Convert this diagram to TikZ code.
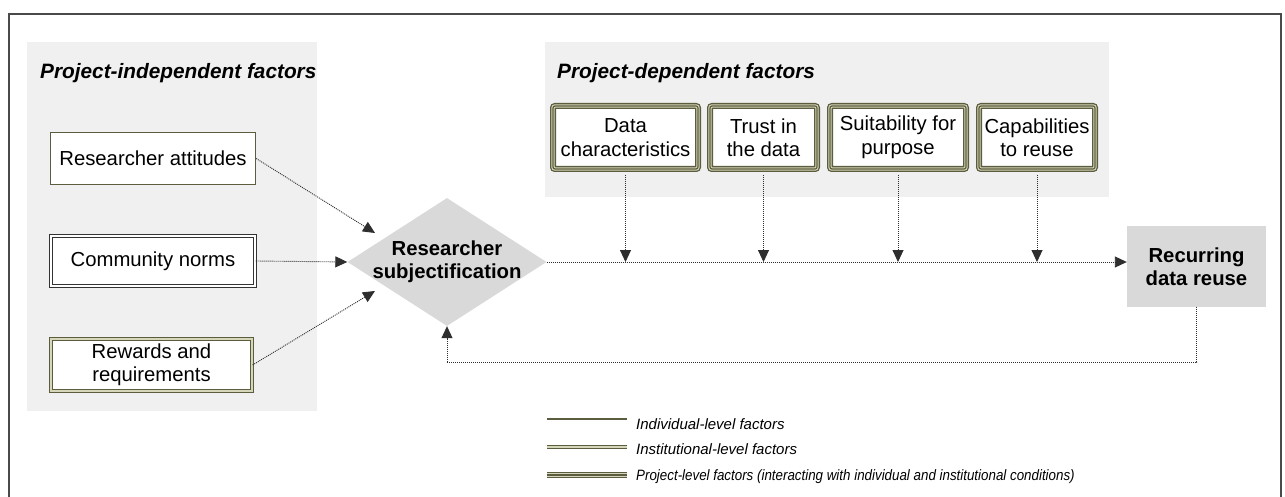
\documentclass[tikz,border=0pt]{standalone}
\usepackage{fontspec}
\setmainfont{Liberation Sans}
\usetikzlibrary{arrows.meta,shapes.geometric,calc}

\definecolor{panelgray}{HTML}{F0F0F0}
\definecolor{keyfill}{HTML}{D9D9D9}
\definecolor{olivedark}{RGB}{92,92,62}
\definecolor{olivelight}{RGB}{214,214,186}
\definecolor{framegray}{HTML}{4A4A4A}
\definecolor{linkgray}{HTML}{2E2E2E}

\begin{document}
\begin{tikzpicture}[x=1pt,y=-1pt,
  boxtext/.style={font=\fontsize{20.3}{23.5}\selectfont, align=center, inner sep=2pt},
  heading/.style={font=\fontsize{20.8}{24}\selectfont\bfseries\itshape, anchor=west, inner sep=0pt},
  legendtext/.style={font=\fontsize{15}{18}\selectfont\itshape, anchor=base west, inner sep=0pt},
  panel/.style={fill=panelgray, draw=none},
  individual/.style={boxtext, fill=white, draw=olivedark, line width=1.4pt},
  institutional/.style={boxtext, fill=white, draw=olivedark, line width=1.2pt,
    double=olivelight, double distance=1.5pt},
  normsbox/.style={boxtext, fill=white, draw=black!80, line width=1.1pt,
    double=white, double distance=1.6pt},
  projectbox/.style={boxtext, fill=white, draw=olivedark, line width=6pt, rounded corners=2pt,
    postaction={draw=olivelight, line width=3.4pt},
    postaction={draw=olivedark, line width=1.2pt}},
  keynode/.style={fill=keyfill, draw=none, font=\fontsize{20.3}{23.5}\selectfont\bfseries,
    align=center, inner sep=0pt},
  link/.style={draw=linkgray, line width=0.9pt, dash pattern=on 1pt off 1pt,
    -{Triangle[length=12pt,width=11pt]}},
  feedback/.style={draw=linkgray, line width=0.9pt, dash pattern=on 1pt off 1pt},
  keyline single/.style={draw=olivedark, line width=1.4pt},
  keyline double/.style={draw=olivedark, line width=1.2pt, double=olivelight, double distance=1.5pt},
  keyline triple/.style={draw=olivedark, line width=6pt,
    postaction={draw=olivelight, line width=3.4pt},
    postaction={draw=olivedark, line width=1.2pt}},
]

% canvas and outer frame (open at the bottom)
\useasboundingbox (0,0) rectangle (1285,497);
\fill[white] (0,0) rectangle (1285,497);
\draw[framegray, line width=2pt] (9,497) -- (9,14) -- (1281,14) -- (1281,497);

% grey group panels
\path[panel] (27,42) rectangle (317,411);
\path[panel] (545,42) rectangle (1109,197);

\node[heading] (hind) at (40,73) {Project-independent factors};
\node[heading] (hdep) at (557,73) {Project-dependent factors};

% project-independent factors
\node[individual, minimum width=205pt, minimum height=52pt] (att) at (153,158.5) {Researcher attitudes};
\node[normsbox, minimum width=204pt, minimum height=50pt] (norms) at (153,261) {Community norms};
\node[institutional, minimum width=201pt, minimum height=52pt] (rew) at (151.5,365) {Rewards and\\requirements};

% project-dependent factors
\node[projectbox, minimum width=145pt, minimum height=63pt] (dc) at (625.5,137.5) {Data\\characteristics};
\node[projectbox, minimum width=107pt, minimum height=63pt] (trust) at (763.5,137.5) {Trust in\\the data};
\node[projectbox, minimum width=136pt, minimum height=63pt] (suit) at (898,137.5) {Suitability for\\purpose};
\node[projectbox, minimum width=116pt, minimum height=63pt] (cap) at (1037,137.5) {Capabilities\\to reuse};

% central process
\node[diamond, fill=keyfill, draw=none, minimum width=199pt, minimum height=128pt, inner sep=0pt,
  aspect=1.55] (diam) at (447,262) {};
\node[keynode, fill=none] (diamtext) at (diam.center) {Researcher\\subjectification};
\node[keynode, minimum width=139pt, minimum height=81pt] (rec) at (1196.5,266.5) {Recurring\\data reuse};

% arrow targets on the diamond
\coordinate (inA) at ([shift={(-72,-29)}]diam.center);
\coordinate (inC) at ([shift={(-72,29)}]diam.center);

\draw[link] (att.east) -- (inA);
\draw[link] (norms.east) -- (diam.west);
\draw[link] (rew.east) -- (inC);

% main flow and moderating factors
\draw[link] (diam.east) -- (rec.west |- diam.east);
\foreach \f in {dc,trust,suit,cap}
  \draw[link, shorten <=3pt] (\f.south) -- (\f.south |- diam.east);

% feedback loop
\coordinate (fb1) at ([yshift=-55pt]rec.south);
\draw[feedback] (rec.south) -- (fb1) -- (fb1 -| diam.south);
\draw[link] (fb1 -| diam.south) -- (diam.south);

% legend
\coordinate (k1a) at (547,419); \coordinate (k1b) at (627,419);
\coordinate (k2a) at (547,447); \coordinate (k2b) at (627,447);
\coordinate (k3a) at (547,475); \coordinate (k3b) at (627,475);
\draw[keyline single] (k1a) -- (k1b);
\draw[keyline double] (k2a) -- (k2b);
\draw[keyline triple] (k3a) -- (k3b);
\node[legendtext] (l1) at (636,429) {Individual-level factors};
\node[legendtext] (l2) at (636,454) {Institutional-level factors};
\node[legendtext] (l3) at (636,480) {\scalebox{0.89}[1]{Project-level factors (interacting with individual and institutional conditions)}};

\end{tikzpicture}
\end{document}
